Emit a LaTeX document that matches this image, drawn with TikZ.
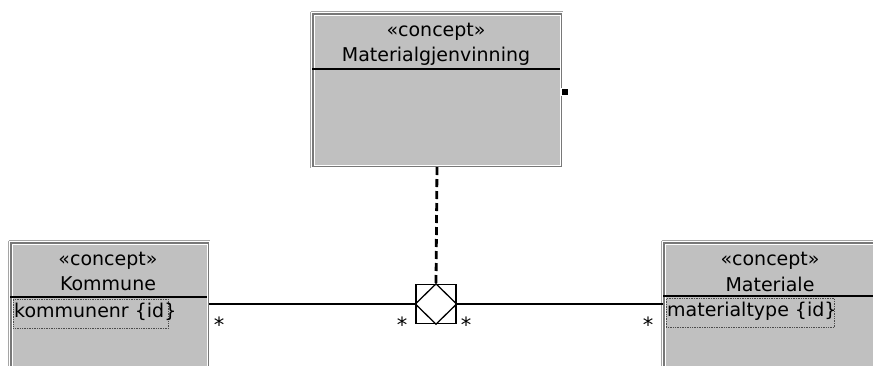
\documentclass[tikz,border=0pt]{standalone}
\usepackage{fontspec}
\setmainfont{DejaVu Sans}
\definecolor{boxfill}{RGB}{192,192,192}
\definecolor{boxedge}{RGB}{120,120,120}
\definecolor{boxouter}{RGB}{165,165,165}
\tikzset{
  cls/.style={draw=boxedge, fill=boxfill, line width=2pt, rectangle, inner sep=0pt, anchor=north west,
    double=none},
  hilite/.style={white, line width=0.9pt},
  divider/.style={black, line width=1.6pt},
  txt/.style={inner sep=0pt, font=\fontsize{19}{22}\selectfont},
  attr/.style={draw=black!70, densely dotted, line width=0.7pt, inner sep=0pt, anchor=north west},
  assocline/.style={black, line width=2.8pt},
  dep/.style={black, line width=2.8pt, dash pattern=on 8pt off 4pt},
  mult/.style={inner sep=0pt, font=\fontsize{21}{22}\selectfont}
}
\begin{document}
\begin{tikzpicture}[x=1pt,y=-1pt]
\useasboundingbox (0,0) rectangle (873,365);
\clip (0,0) rectangle (873,365);
\fill[white] (0,0) rectangle (873,365);

% top class
\node[cls, minimum width=248pt, minimum height=152pt] (mg) at (312,13) {};
\draw[hilite] ([xshift=2pt,yshift=-2pt]mg.north west) rectangle ([xshift=-2pt,yshift=2pt]mg.south east);
\draw[boxouter, line width=0.8pt] ([xshift=-1.2pt,yshift=1.2pt]mg.north west) -- ([xshift=1.2pt,yshift=1.2pt]mg.north east);
\draw[boxouter, line width=0.8pt] ([xshift=-1.2pt,yshift=1.2pt]mg.north west) -- ([xshift=-1.2pt,yshift=-1.2pt]mg.south west);
\draw[divider] (312,69) -- (560,69);
\node[txt] (mgst) at (436,32) {«concept»};
\node[txt] (mgname) at (436,56) {Materialgjenvinning};
\node[fill=black, draw=white, line width=1pt, minimum size=7pt, inner sep=0pt] (hdl) at (564.5,92) {};

% left class
\node[cls, minimum width=197pt, minimum height=160pt] (kom) at (10,242) {};
\draw[hilite] ([xshift=2pt,yshift=-2pt]kom.north west) rectangle ([xshift=-2pt,yshift=2pt]kom.south east);
\draw[boxouter, line width=0.8pt] ([xshift=-1.2pt,yshift=1.2pt]kom.north west) -- ([xshift=1.2pt,yshift=1.2pt]kom.north east);
\draw[boxouter, line width=0.8pt] ([xshift=-1.2pt,yshift=1.2pt]kom.north west) -- ([xshift=-1.2pt,yshift=-1.2pt]kom.south west);
\draw[divider] (10,297) -- (207,297);
\node[txt] (komst) at (108,261) {«concept»};
\node[txt] (komname) at (108,284) {Kommune};
\node[attr, minimum width=155pt, minimum height=29pt] (komattr) at (13,299) {};
\node[txt, anchor=west] (komattrtxt) at (14,312) {kommunenr \{id\}};

% right class
\node[cls, minimum width=230pt, minimum height=160pt] (mat) at (663,242) {};
\draw[hilite] ([xshift=2pt,yshift=-2pt]mat.north west) rectangle ([xshift=-2pt,yshift=2pt]mat.south east);
\draw[boxouter, line width=0.8pt] ([xshift=-1.2pt,yshift=1.2pt]mat.north west) -- ([xshift=1.2pt,yshift=1.2pt]mat.north east);
\draw[boxouter, line width=0.8pt] ([xshift=-1.2pt,yshift=1.2pt]mat.north west) -- ([xshift=-1.2pt,yshift=-1.2pt]mat.south west);
\draw[divider] (663,296) -- (880,296);
\node[txt] (matst) at (770,261) {«concept»};
\node[txt] (matname) at (770,284) {Materiale};
\node[attr, minimum width=168pt, minimum height=29pt] (matattr) at (666,298) {};
\node[txt, anchor=west] (matattrtxt) at (667,311) {materialtype \{id\}};

% association node
\node[draw=black, line width=1.3pt, fill=white, minimum width=40pt, minimum height=39pt, inner sep=0pt] (assoc) at (436,304) {};
\draw[black, line width=1.3pt] (assoc.north) -- (assoc.west) -- (assoc.south) -- (assoc.east) -- cycle;

% connectors
\draw[assocline] (assoc.west -| kom.east) -- (assoc.west);
\draw[assocline] (assoc.east) -- (assoc.east -| mat.west);
\draw[dep] (mg.south) -- (assoc.north);

% multiplicities
\node[mult] (m1) at (219,325) {*};
\node[mult] (m2) at (402,325) {*};
\node[mult] (m3) at (466,325) {*};
\node[mult] (m4) at (648,325) {*};
\end{tikzpicture}
\end{document}
